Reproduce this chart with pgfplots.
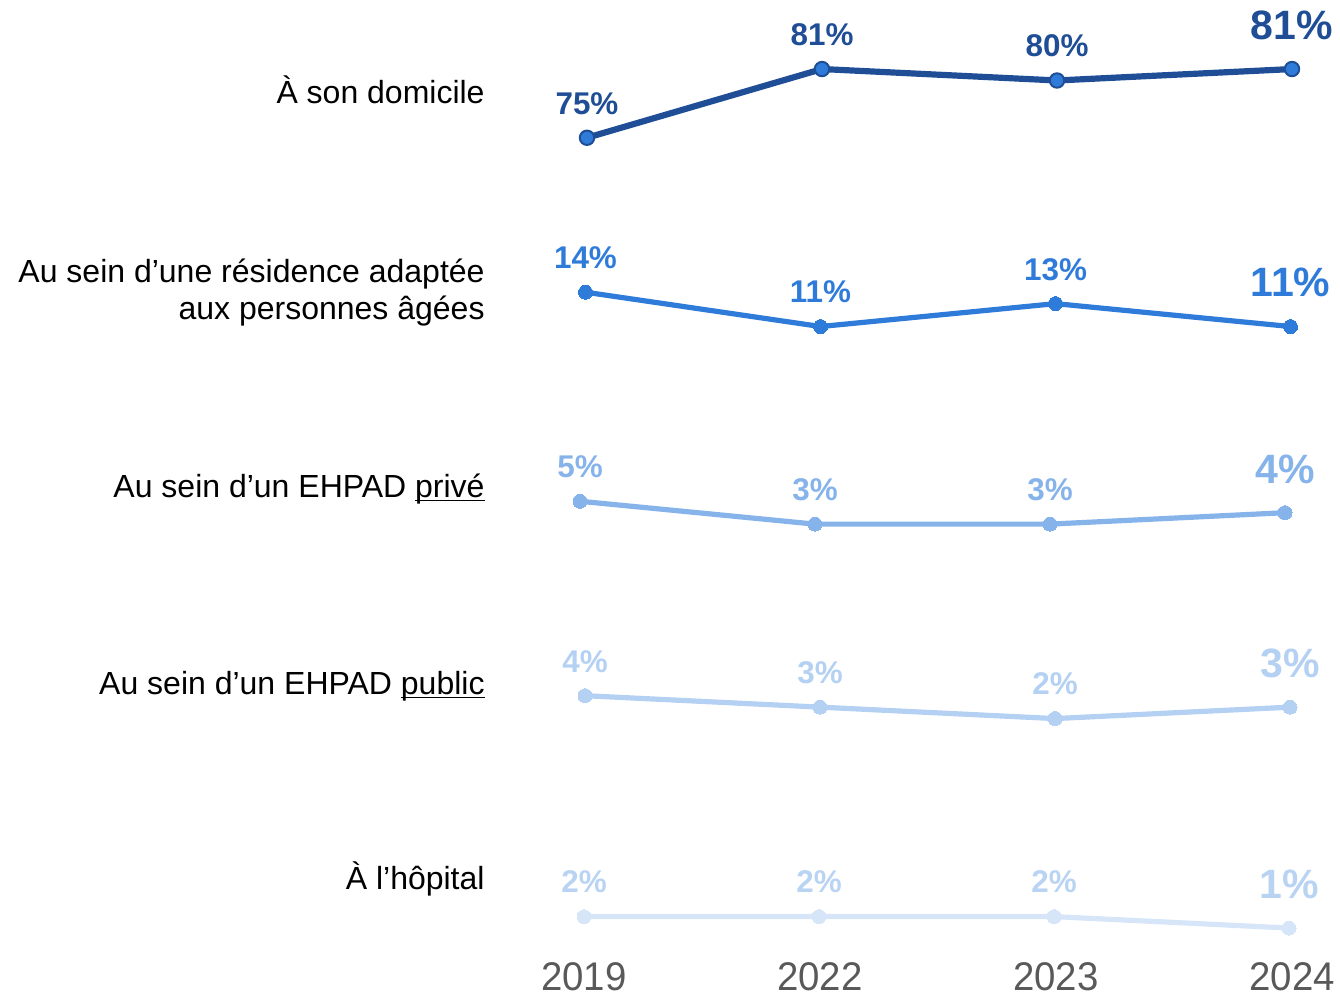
\documentclass[border=0pt]{standalone}
\usepackage{pgfplots}
\pgfplotsset{compat=1.18}
\usepackage{fontspec}
\setmainfont{Liberation Sans}
\newfontfamily\narrowfont[FakeStretch=0.96]{Liberation Sans}

\definecolor{c1}{HTML}{1F4E96}
\definecolor{m1}{HTML}{2F7BDA}
\definecolor{c2}{HTML}{2F7BDA}
\definecolor{c3}{HTML}{86B3EA}
\definecolor{c4}{HTML}{B4D0F2}
\definecolor{c5}{HTML}{D6E5F8}
\definecolor{l5}{HTML}{B9D3F3}
\definecolor{yeargray}{HTML}{595959}

% bigger label for the last year
\newcommand\lastlab[1]{\raisebox{3pt}{\fontsize{20.5}{24}\selectfont #1}}
\newcommand\ul[1]{\underline{\raisebox{0pt}[\height][0pt]{#1}}}

\pgfplotsset{
  rowaxis/.style={
    anchor=south west,
    x=117.5pt, y=5.725pt,
    xmin=0, xmax=3, ymin=0,
    hide axis, clip=false,
    nodes near coords,
    point meta=explicit symbolic,
    nodes near coords style={anchor=base, yshift=11.8pt,
      font=\fontsize{15.7}{18}\selectfont\bfseries},
  },
}

\begin{document}
\begin{tikzpicture}
\useasboundingbox (0,0) rectangle (670pt,498pt);

% row labels
\begin{scope}[every node/.style={font=\fontsize{16}{18.5}\selectfont, anchor=east, align=right, inner sep=0pt}]
\node at (242.5pt,453pt) {À son domicile};
\node at (242.5pt,351.5pt) {Au sein d’une résidence adaptée\\aux personnes âgées};
\node at (242.5pt,254pt) {Au sein d’un EHPAD \ul{privé}};
\node at (242.5pt,155.5pt) {Au sein d’un EHPAD \ul{public}};
\node at (242.5pt,58.5pt) {À l’hôpital};
\end{scope}

% À son domicile
\begin{axis}[rowaxis, at={(293.5pt,-0.25pt)}, ymax=85]
\addplot[c1, line width=3.1pt, mark=*, mark size=3.6pt,
  mark options={fill=m1, draw=c1, line width=1pt},
  every node near coord/.append style={text=c1}]
  coordinates {(0,75) [75\%] (1,81) [81\%] (2,80) [80\%] (3,81) [\lastlab{81\%}]};
\end{axis}

% Au sein d'une résidence adaptée
\begin{axis}[rowaxis, at={(292.75pt,271.75pt)}, ymax=16]
\addplot[c2, line width=2.6pt, mark=*, mark size=3.5pt,
  mark options={fill=c2, draw=c2, line width=0pt},
  every node near coord/.append style={text=c2}]
  coordinates {(0,14) [14\%] (1,11) [11\%] (2,13) [13\%] (3,11) [\lastlab{11\%}]};
\end{axis}

% EHPAD privé
\begin{axis}[rowaxis, at={(290pt,218.75pt)}, ymax=7]
\addplot[c3, line width=2.6pt, mark=*, mark size=3.5pt,
  mark options={fill=c3, draw=c3, line width=0pt},
  every node near coord/.append style={text=c3}]
  coordinates {(0,5) [5\%] (1,3) [3\%] (2,3) [3\%] (3,4) [\lastlab{4\%}]};
\end{axis}

% EHPAD public
\begin{axis}[rowaxis, at={(292.5pt,127.25pt)}, ymax=6]
\addplot[c4, line width=2.6pt, mark=*, mark size=3.5pt,
  mark options={fill=c4, draw=c4, line width=0pt},
  every node near coord/.append style={text=c4}]
  coordinates {(0,4) [4\%] (1,3) [3\%] (2,2) [2\%] (3,3) [\lastlab{3\%}]};
\end{axis}

% À l'hôpital
\begin{axis}[rowaxis, at={(292pt,28.25pt)}, ymax=4]
\addplot[c5, line width=2.6pt, mark=*, mark size=3.5pt,
  mark options={fill=c5, draw=c5, line width=0pt},
  every node near coord/.append style={text=l5}]
  coordinates {(0,2) [2\%] (1,2) [2\%] (2,2) [2\%] (3,1) [\lastlab{1\%}]};
\begin{scope}[every node/.style={anchor=base, text=yeargray, inner sep=0pt,
    font=\narrowfont\fontsize{20}{22}\selectfont}]
\node at (axis cs:0,-4.45) {2019};
\node at (axis cs:1.004,-4.45) {2022};
\node at (axis cs:2.008,-4.45) {2023};
\node at (axis cs:3.013,-4.45) {2024};
\end{scope}
\end{axis}
\end{tikzpicture}
\end{document}
